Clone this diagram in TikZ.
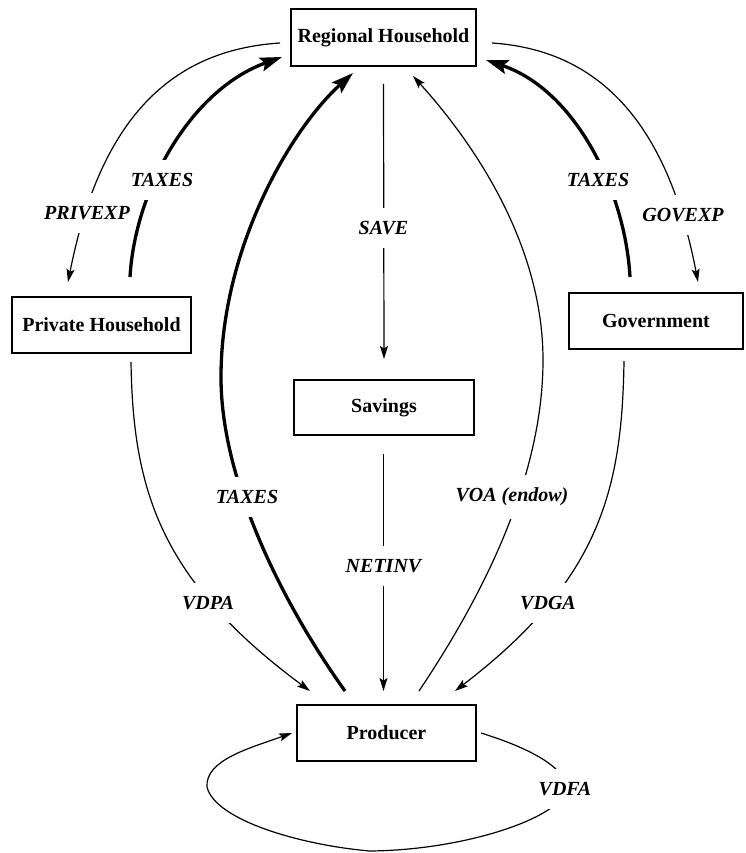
\documentclass[tikz,border=0pt]{standalone}
\usepackage{fontspec}
\setmainfont{Liberation Serif}
\usetikzlibrary{arrows.meta,calc}
\begin{document}
\begin{tikzpicture}[x=1pt,y=-1pt,
  box/.style={draw,line width=2pt,inner sep=0pt,font=\fontsize{20}{24}\selectfont\bfseries},
  lbl/.style={fill=white,inner xsep=3pt,inner ysep=13pt,font=\fontsize{20}{24}\selectfont\bfseries\itshape},
  flow/.style={line width=1.2pt,-{Stealth[length=13pt,width=8pt,inset=2.5pt]}},
  tax/.style={line width=3.3pt,-{Stealth[length=22pt,width=14pt,inset=4pt]}}]
\useasboundingbox (0,0) rectangle (745,853);
% boxes
\node[box,minimum width=185pt,minimum height=57pt] (rh) at (383.5,37.5) {Regional Household};
\node[box,minimum width=179pt,minimum height=56pt] (ph) at (101.5,325) {Private Household};
\node[box,minimum width=174pt,minimum height=56pt] (gov) at (656,321) {Government};
\node[box,minimum width=180pt,minimum height=55pt] (sav) at (384,407.5) {Savings};
\node[box,minimum width=179pt,minimum height=56pt] (prod) at (386.5,733) {Producer};
% connectors
\draw[flow] ($(rh.west)+(-10,5.5)$) .. controls (170,50) and (100,120) .. ($(ph.north)+(-33.5,-14)$);
\draw[tax] ($(ph.north)+(28.5,-19)$) .. controls (135,190) and (190,90) .. ($(rh.west)+(-8,19.5)$);
\draw[tax] ($(prod.north)+(-41.5,-13)$) .. controls (280,600) and (222,480) .. (221,380) .. controls (220,250) and (290,130) .. ($(rh.south)+(-30.5,6)$);
\draw[flow] ($(rh.south)+(0,17)$) -- ($(sav.north)+(0,-20)$);
\draw[flow] ($(sav.south)+(-0.5,18)$) -- ($(prod.north)+(-3,-13)$);
\draw[flow] ($(prod.north)+(32.5,-13)$) .. controls (480,600) and (543,480) .. (543,360) .. controls (543,250) and (480,150) .. ($(rh.south)+(29.5,9)$);
\draw[flow] ($(gov.south)+(-32,11)$) .. controls (622,490) and (600,580) .. ($(prod.north)+(68.5,-13)$);
\draw[flow] ($(ph.south)+(29.5,8)$) .. controls (133,490) and (160,580) .. ($(prod.north)+(-76.5,-13)$);
\draw[tax] ($(gov.north)+(-26,-15)$) .. controls (625,190) and (575,90) .. ($(rh.east)+(9,22.5)$);
\draw[flow] ($(rh.east)+(15,5.5)$) .. controls (597,50) and (667,120) .. ($(gov.north)+(42,-10)$);
\draw[flow] ($(prod.east)+(4,0)$) .. controls (520,745) and (566,765) .. (566,788) .. controls (566,815) and (470,850) .. (370,851) .. controls (300,845) and (215,820) .. (207,787) .. controls (205,760) and (250,748) .. ($(prod.west)+(-4,0)$);
% labels
\node[lbl,inner xsep=2pt] (lpe) at (87,213) {PRIVEXP};
\node[lbl] (ltx1) at (162,180) {TAXES};
\node[lbl] (lsave) at (383.5,228) {SAVE};
\node[lbl] (ltx2) at (598,180) {TAXES};
\node[lbl] (lge) at (683,215) {GOVEXP};
\node[lbl] (ltx3) at (247,497) {TAXES};
\node[lbl] (lvoa) at (512,497) {VOA (endow)};
\node[lbl] (lnet) at (383.5,566) {NETINV};
\node[lbl] (lvdpa) at (208,603) {VDPA};
\node[lbl] (lvdga) at (548,603) {VDGA};
\node[lbl] (lvdfa) at (565,789) {VDFA};
\end{tikzpicture}
\end{document}
